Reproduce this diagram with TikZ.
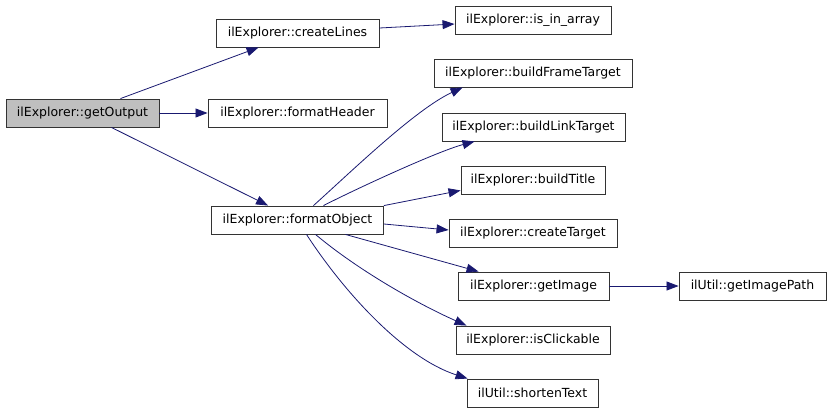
\documentclass[tikz,border=0pt]{standalone}
\usepackage{fontspec}
\setmainfont{DejaVu Sans}
\usetikzlibrary{arrows.meta}
\definecolor{edgeblue}{RGB}{25,25,112}

\begin{document}
\begin{tikzpicture}[x=1pt, y=-1pt,
                    fn/.style={draw=black!80, line width=.9pt, inner sep=0pt,
                        minimum height=28pt, font=\fontsize{12.5}{14}\selectfont},
                    call/.style={draw=edgeblue, line width=.8pt,
                        -{Triangle[length=12pt, width=9pt]}, fill=none}]
                    \useasboundingbox (0,0) rectangle (832,413);
                    \node[fn, fill=black!25, minimum width=153pt] (go) at (82.5,113) {ilExplorer::getOutput};
                    \node[fn, minimum width=163pt] (cl) at (297.5,33) {ilExplorer::createLines};
                    \node[fn, minimum width=179pt] (fh) at (297.5,113) {ilExplorer::formatHeader};
                    \node[fn, minimum width=172pt] (fo) at (297.5,220) {ilExplorer::formatObject};
                    \node[fn, minimum width=156pt] (iia) at (533,20) {ilExplorer::is\_in\_array};
                    \node[fn, minimum width=198pt] (bft) at (533,73) {ilExplorer::buildFrameTarget};
                    \node[fn, minimum width=183pt] (blt) at (533.5,127) {ilExplorer::buildLinkTarget};
                    \node[fn, minimum width=144pt] (bt) at (533,180) {ilExplorer::buildTitle};
                    \node[fn, minimum width=168pt] (ct) at (533,233) {ilExplorer::createTarget};
                    \node[fn, minimum width=151pt] (gi) at (533.5,286) {ilExplorer::getImage};
                    \node[fn, minimum width=154pt] (ic) at (533,340) {ilExplorer::isClickable};
                    \node[fn, minimum width=131pt] (st) at (532.5,393) {ilUtil::shortenText};
                    \node[fn, minimum width=147pt] (gip) at (752.5,286) {ilUtil::getImagePath};
                    \draw[call] ([xshift=38pt]go.north) -- ([xshift=43pt]cl.south west);
                    \draw[call] (go.east) -- (fh.west);
                    \draw[call] ([xshift=29pt]go.south) -- ([xshift=57pt]fo.north west);
                    \draw[call] ([yshift=5pt]cl.east) -- ([yshift=-4pt]iia.west);
                    \draw[call] ([xshift=16pt]fo.north) to[out=42, in=205, looseness=.7]
                        ([xshift=29pt]bft.south west);
                    \draw[call] ([xshift=26pt]fo.north) to[out=27, in=195, looseness=.6]
                        ([xshift=33pt]blt.south west);
                    \draw[call] (fo.north east) -- ([yshift=4pt]bt.south west);
                    \draw[call] ([yshift=-4pt]fo.east) -- ([yshift=3pt]ct.west);
                    \draw[call] ([xshift=48pt]fo.south) -- ([xshift=21pt]gi.north west);
                    \draw[call] ([xshift=18pt]fo.south) to[out=-40, in=156, looseness=.8]
                        ([xshift=11pt]ic.north west);
                    \draw[call] ([xshift=9pt]fo.south) to[out=-57, in=162, looseness=.8]
                        ([xshift=1pt]st.north west);
                    \draw[call] (gi.east) -- (gip.west);
                \end{tikzpicture}
\end{document}
